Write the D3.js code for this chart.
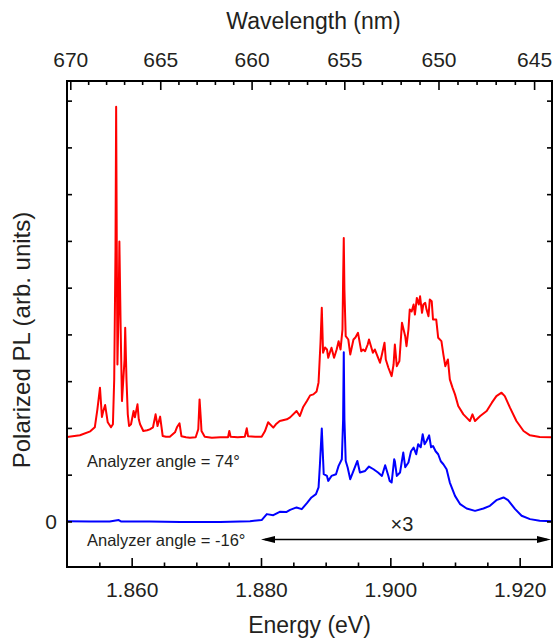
<!DOCTYPE html>
<html>
<head>
<meta charset="utf-8">
<script src="https://cdn.jsdelivr.net/npm/d3@7"></script>
<style>
    body { margin: 0; background: #ffffff; }
    svg { display: block; font-family: "Liberation Sans", Arial, Helvetica, sans-serif; }
</style>
</head>
<body>
<div id="pl-chart"></div>
<script>
/////////////////DATA////////////////////////////
// red: analyzer angle 74 deg (offset), blue: analyzer angle -16 deg (x3 above 1.880 eV)
var redEnergy = [1.8500, 1.8520, 1.8536, 1.8543, 1.8547, 1.8551, 1.8554, 1.8556, 1.8559, 1.8563,
    1.8568, 1.8571, 1.8573, 1.8575, 1.8576, 1.8577, 1.8578, 1.8580, 1.8581, 1.8583,
    1.8585, 1.8589, 1.8590, 1.8592, 1.8594, 1.8596, 1.8599, 1.8603, 1.8605, 1.8609,
    1.8611, 1.8613, 1.8618, 1.8624, 1.8628, 1.8633, 1.8637, 1.8640, 1.8644, 1.8648,
    1.8653, 1.8659, 1.8667, 1.8670, 1.8674, 1.8677, 1.8684, 1.8690, 1.8699, 1.8703,
    1.8705, 1.8707, 1.8708, 1.8713, 1.8724, 1.8737, 1.8749, 1.8751, 1.8753, 1.8764,
    1.8775, 1.8778, 1.8780, 1.8791, 1.8801, 1.8806, 1.8811, 1.8819, 1.8823, 1.8829,
    1.8840, 1.8845, 1.8855, 1.8860, 1.8865, 1.8871, 1.8876, 1.8881, 1.8886, 1.8889,
    1.8890, 1.8892, 1.8894, 1.8896, 1.8899, 1.8902, 1.8904, 1.8907, 1.8909, 1.8913,
    1.8917, 1.8920, 1.8923, 1.8926, 1.8927, 1.8928, 1.8929, 1.8931, 1.8935, 1.8938,
    1.8943, 1.8946, 1.8950, 1.8955, 1.8958, 1.8961, 1.8965, 1.8967, 1.8973, 1.8976,
    1.8979, 1.8984, 1.8987, 1.8991, 1.8993, 1.8997, 1.9002, 1.9005, 1.9007, 1.9010,
    1.9014, 1.9018, 1.9023, 1.9025, 1.9028, 1.9030, 1.9033, 1.9036, 1.9038, 1.9041,
    1.9044, 1.9046, 1.9049, 1.9051, 1.9054, 1.9056, 1.9059, 1.9061, 1.9064, 1.9066,
    1.9071, 1.9074, 1.9079, 1.9082, 1.9085, 1.9089, 1.9092, 1.9096, 1.9100, 1.9105,
    1.9113, 1.9119, 1.9123, 1.9127, 1.9131, 1.9139, 1.9149, 1.9157, 1.9164, 1.9172,
    1.9177, 1.9185, 1.9195, 1.9206, 1.9216, 1.9231, 1.9250];
var redIntensity = [1.806, 1.842, 1.927, 2.013, 2.397, 2.860, 2.233, 2.354, 2.489, 2.120,
    2.013, 2.077, 3.037, 5.812, 8.871, 5.812, 3.357, 4.745, 5.989, 4.105,
    2.574, 3.464, 4.141, 3.037, 2.290, 2.041, 2.077, 2.361, 2.226, 2.504,
    2.184, 2.077, 1.934, 1.949, 1.970, 2.013, 2.290, 2.041, 2.241, 1.827,
    1.810, 1.810, 1.906, 2.013, 2.098, 1.821, 1.799, 1.789, 1.799, 1.970,
    2.610, 2.184, 1.934, 1.810, 1.789, 1.799, 1.799, 1.934, 1.810, 1.799,
    1.810, 1.991, 1.821, 1.810, 1.810, 1.927, 2.120, 2.006, 2.077, 2.147,
    2.184, 2.226, 2.361, 2.254, 2.440, 2.574, 2.696, 2.717, 2.781, 2.973,
    3.251, 3.821, 4.568, 3.607, 3.720, 3.678, 3.501, 3.635, 3.714, 3.501,
    3.678, 3.855, 3.678, 4.105, 5.172, 6.062, 4.958, 3.962, 3.891, 3.571,
    3.891, 3.934, 4.034, 3.641, 3.678, 3.641, 3.784, 3.891, 3.607, 3.678,
    3.571, 3.394, 3.571, 3.821, 3.464, 3.287, 3.108, 3.357, 3.784, 3.321,
    3.428, 4.248, 3.962, 3.748, 4.105, 4.531, 4.489, 4.638, 4.425, 4.781,
    4.638, 4.815, 4.461, 4.638, 4.675, 4.531, 4.388, 4.745, 4.709, 4.318,
    4.318, 3.927, 3.855, 3.571, 3.321, 3.464, 3.037, 2.867, 2.717, 2.467,
    2.290, 2.205, 2.147, 2.290, 2.147, 2.254, 2.361, 2.540, 2.681, 2.753,
    2.681, 2.433, 2.147, 1.934, 1.842, 1.806, 1.799];

var blueEnergy = [1.8500, 1.8536, 1.8566, 1.8580, 1.8584, 1.8628, 1.8675, 1.8737, 1.8783, 1.8801,
    1.8809, 1.8819, 1.8829, 1.8839, 1.8845, 1.8855, 1.8863, 1.8871, 1.8878, 1.8885,
    1.8889, 1.8891, 1.8894, 1.8896, 1.8897, 1.8902, 1.8904, 1.8909, 1.8916, 1.8920,
    1.8925, 1.8927, 1.8928, 1.8929, 1.8931, 1.8934, 1.8938, 1.8943, 1.8949, 1.8953,
    1.8961, 1.8967, 1.8974, 1.8981, 1.8987, 1.8992, 1.8997, 1.8999, 1.9002, 1.9006,
    1.9007, 1.9010, 1.9015, 1.9020, 1.9023, 1.9028, 1.9032, 1.9036, 1.9040, 1.9043,
    1.9047, 1.9050, 1.9053, 1.9056, 1.9060, 1.9063, 1.9066, 1.9070, 1.9074, 1.9078,
    1.9082, 1.9087, 1.9092, 1.9100, 1.9108, 1.9118, 1.9131, 1.9144, 1.9154, 1.9164,
    1.9175, 1.9182, 1.9193, 1.9203, 1.9216, 1.9231, 1.9250];
var blueIntensity = [0.006, -0.004, -0.004, 0.028, -0.004, -0.004, -0.011, -0.011, 0.006, 0.028,
    0.156, 0.134, 0.205, 0.199, 0.248, 0.299, 0.263, 0.391, 0.512, 0.583,
    0.726, 1.187, 1.985, 1.330, 1.010, 0.973, 0.867, 0.973, 1.010, 1.187,
    1.330, 2.184, 3.620, 2.184, 1.293, 1.153, 0.903, 1.080, 1.293, 1.046,
    1.080, 1.174, 1.116, 1.046, 0.973, 1.202, 0.973, 0.867, 0.832, 1.330,
    1.287, 0.973, 1.046, 1.473, 1.159, 1.259, 1.501, 1.580, 1.437, 1.650,
    1.586, 1.863, 1.650, 1.720, 1.842, 1.586, 1.614, 1.501, 1.437, 1.287,
    1.223, 1.116, 0.832, 0.546, 0.369, 0.277, 0.226, 0.277, 0.333, 0.455,
    0.512, 0.455, 0.263, 0.120, 0.049, 0.013, 0.006];

var energyDomain = [1.850, 1.925];
var intensityDomain = [-0.975, 9.42];
var energyMajorTicks = [1.860, 1.880, 1.900, 1.920];
var energyMinorTicks = [1.855, 1.865, 1.870, 1.875, 1.885, 1.890, 1.895, 1.905, 1.910, 1.915];
var wavelengthMajorTicks = [670, 665, 660, 655, 650, 645];
var intensityTicks = [0, 1, 2, 3, 4, 5, 6, 7, 8, 9];
var scaledFrom = 1.880;   // start of the x3 region
var HC = 1239.84;         // eV nm
/////////////////END DATA////////////////////////////

window.plChart = (function () {

    var PLChart = {};

    PLChart.init = function () {
        this.width = 553;
        this.height = 638;
        this.margin = { l: 67, r: 1, t: 81, b: 71 };
        this.textColor = '#231f20';

        this.x = d3.scaleLinear().domain(energyDomain)
            .range([this.margin.l, this.width - this.margin.r]);
        this.y = d3.scaleLinear().domain(intensityDomain)
            .range([this.height - this.margin.b, this.margin.t]);

        this.createElement();
        this.drawCurves();
        this.drawAxes();
        this.drawLabels();
    };

    PLChart.createElement = function () {
        this.svg = d3.select('#pl-chart').append('svg')
            .attr('width', this.width)
            .attr('height', this.height);

        this.svg.append('defs').append('clipPath').attr('id', 'plot-clip')
            .append('rect')
            .attr('x', this.margin.l)
            .attr('y', this.margin.t)
            .attr('width', this.width - this.margin.r - this.margin.l)
            .attr('height', this.height - this.margin.b - this.margin.t);
    };

    PLChart.drawCurves = function () {
        var self = this;
        var line = d3.line()
            .x(function (d) { return self.x(d[0]); })
            .y(function (d) { return self.y(d[1]); });

        var series = [
            { e: redEnergy, v: redIntensity, color: '#ff0000' },
            { e: blueEnergy, v: blueIntensity, color: '#0000ff' }
        ];

        var g = this.svg.append('g').attr('clip-path', 'url(#plot-clip)');
        series.forEach(function (s) {
            g.append('path')
                .datum(d3.zip(s.e, s.v))
                .attr('fill', 'none')
                .attr('stroke', s.color)
                .attr('stroke-width', 2)
                .attr('stroke-linejoin', 'round')
                .attr('d', line);
        });
    };

    PLChart.styleAxis = function (g, tickWidth) {
        g.attr('font-size', null).attr('font-family', null);
        g.select('.domain').remove();
        g.selectAll('.tick line').attr('stroke', '#000').attr('stroke-width', tickWidth || 1.6);
        g.selectAll('.tick text').attr('fill', this.textColor).style('font-size', '21px');
    };

    PLChart.drawAxes = function () {
        var self = this;
        var x = this.x, y = this.y;
        var bottom = this.height - this.margin.b;
        var right = this.width - this.margin.r;

        // bottom energy axis
        var gb = this.svg.append('g').attr('transform', 'translate(0,' + bottom + ')');
        gb.call(d3.axisBottom(x).tickValues(energyMajorTicks).tickSizeInner(-9).tickSizeOuter(0)
            .tickPadding(15).tickFormat(d3.format('.3f')));
        this.styleAxis(gb);
        var gbm = this.svg.append('g').attr('transform', 'translate(0,' + bottom + ')');
        gbm.call(d3.axisBottom(x).tickValues(energyMinorTicks).tickSizeInner(-4.5).tickSizeOuter(0)
            .tickFormat(''));
        this.styleAxis(gbm);

        // top wavelength axis, placed through the energy scale
        var lamMinor = d3.range(645, 671).filter(function (l) { return l % 5 !== 0; });
        var toEnergy = function (l) { return HC / l; };
        var gt = this.svg.append('g').attr('transform', 'translate(0,' + this.margin.t + ')');
        gt.call(d3.axisTop(x).tickValues(wavelengthMajorTicks.map(toEnergy)).tickSizeInner(-9)
            .tickSizeOuter(0).tickPadding(14)
            .tickFormat(function (e) { return Math.round(HC / e); }));
        this.styleAxis(gt);
        var gtm = this.svg.append('g').attr('transform', 'translate(0,' + this.margin.t + ')');
        gtm.call(d3.axisTop(x).tickValues(lamMinor.map(toEnergy)).tickSizeInner(-4).tickSizeOuter(0)
            .tickFormat(''));
        this.styleAxis(gtm);

        // left and right intensity axes
        var gl = this.svg.append('g').attr('transform', 'translate(' + this.margin.l + ',0)');
        gl.call(d3.axisLeft(y).tickValues(intensityTicks).tickSizeInner(-5).tickSizeOuter(0)
            .tickPadding(10).tickFormat(function (d) { return d === 0 ? '0' : ''; }));
        this.styleAxis(gl);
        var gr = this.svg.append('g').attr('transform', 'translate(' + right + ',0)');
        gr.call(d3.axisRight(y).tickValues(intensityTicks).tickSizeInner(-5).tickSizeOuter(0)
            .tickFormat(''));
        this.styleAxis(gr);

        // frame
        this.svg.append('rect')
            .attr('x', this.margin.l)
            .attr('y', this.margin.t)
            .attr('width', right - this.margin.l)
            .attr('height', bottom - this.margin.t)
            .attr('fill', 'none')
            .attr('stroke', '#000')
            .attr('stroke-width', 2);
    };

    PLChart.drawLabels = function () {
        var self = this;
        var x = this.x;

        var text = function (tx, ty, str, size, anchor) {
            return self.svg.append('text')
                .attr('x', tx).attr('y', ty)
                .attr('fill', self.textColor)
                .attr('text-anchor', anchor || 'start')
                .style('font-size', size + 'px')
                .text(str);
        };

        text((this.margin.l + this.width - this.margin.r) / 2, 633, 'Energy (eV)', 23, 'middle');
        text((this.margin.l + this.width - this.margin.r) / 2 + 4, 29, 'Wavelength (nm)', 23, 'middle');
        text(0, 0, 'Polarized PL (arb. units)', 24, 'middle')
            .attr('transform', 'translate(30,340) rotate(-90)');

        text(87, 467, 'Analyzer angle = 74°', 16.5);
        text(87, 546, 'Analyzer angle = -16°', 16.5);
        text(402, 531, '×3', 20, 'middle');

        // double arrow marking the x3 region
        var ay = 539.5;
        var x0 = x(scaledFrom), x1 = x(energyDomain[1]) - 1;
        var headLen = 14, headHalf = 3.6;
        this.svg.append('line')
            .attr('x1', x0 + 4).attr('x2', x1 - 4)
            .attr('y1', ay).attr('y2', ay)
            .attr('stroke', '#000').attr('stroke-width', 1.6);
        this.svg.append('path')
            .attr('d', 'M' + x0 + ',' + ay + 'L' + (x0 + headLen) + ',' + (ay - headHalf) +
                'L' + (x0 + headLen) + ',' + (ay + headHalf) + 'Z')
            .attr('fill', '#000');
        this.svg.append('path')
            .attr('d', 'M' + x1 + ',' + ay + 'L' + (x1 - headLen) + ',' + (ay - headHalf) +
                'L' + (x1 - headLen) + ',' + (ay + headHalf) + 'Z')
            .attr('fill', '#000');
    };

    return PLChart;

})();

window.plChart.init();
</script>
</body>
</html>
